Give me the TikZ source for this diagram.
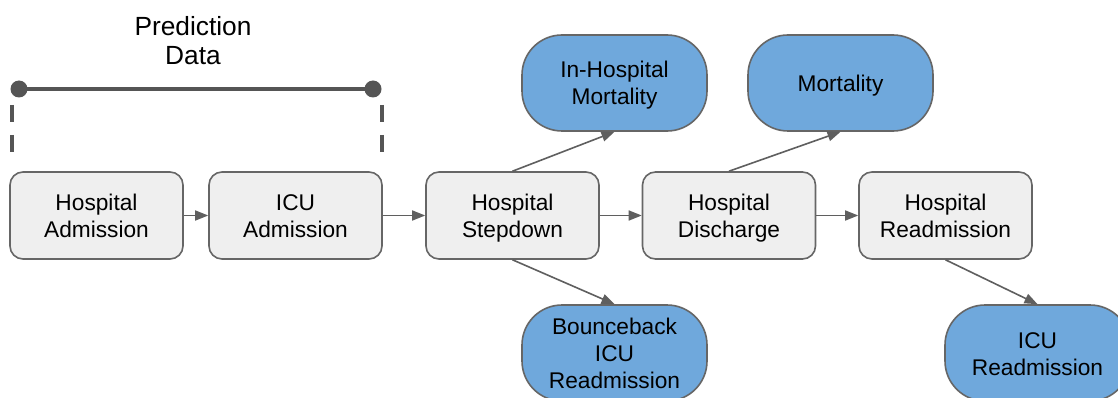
\documentclass[tikz,border=0pt]{standalone}
\usepackage{amsmath}
\usepackage{fontspec}
\setmainfont{Liberation Sans}
\usetikzlibrary{arrows.meta,positioning}
\definecolor{boxfill}{HTML}{EFEFEF}
\definecolor{boxdraw}{HTML}{666666}
\definecolor{bluefill}{HTML}{6FA8DC}
\definecolor{linec}{HTML}{5F5F5F}
\definecolor{darkc}{HTML}{555555}
\newcommand\toprl{\rule{0pt}{17pt}}
\newcommand\lastl[1]{\smash[b]{#1}}
\tikzset{
  graybox/.style={draw=boxdraw, fill=boxfill, line width=1.6pt, rounded corners=13pt,
    minimum width=173pt, minimum height=87pt, align=center, inner sep=0pt,
    font=\fontsize{22.7}{27}\selectfont},
  pill/.style={draw=boxdraw, fill=bluefill, line width=1.6pt, rounded corners=40pt,
    minimum width=185pt, minimum height=96pt, align=center, inner sep=0pt,
    font=\fontsize{22.7}{27}\selectfont},
  conn/.style={draw=linec, line width=1.6pt, -{Triangle[length=13pt,width=10pt]}},
  bar/.style={draw=darkc, line width=4pt},
  dashbar/.style={draw=darkc, line width=4pt, dash pattern=on 17pt off 13pt},
  dot/.style={circle, fill=darkc, minimum size=17pt, inner sep=0pt},
}
\begin{document}
\begin{tikzpicture}[x=1pt,y=-1pt]
\useasboundingbox (0,0) rectangle (1118,398);
\clip (0,0) rectangle (1118,398);
\fill[white] (0,0) rectangle (1118,398);
% prediction data
\node[align=center, inner sep=0pt, font=\fontsize{26.3}{29}\selectfont] (pd) at (193,40)
  {\rule{0pt}{19pt}Prediction\\\lastl{Data}};
\node[dot] (d1) at (19,89) {};
\node[dot] (d2) at (373,89) {};
\draw[bar] (d1.center) -- (d2.center);
\coordinate (l1) at (12,105);
\coordinate (l2) at (12,153);
\coordinate (r1) at (382,105);
\coordinate (r2) at (382,153);
\draw[dashbar] (l1) -- (l2);
\draw[dashbar] (r1) -- (r2);
% boxes
\node[graybox] (ha) at (96.5,215.5) {\toprl Hospital\\\lastl{Admission}};
\node[graybox] (icu) at (295.5,215.5) {\toprl ICU\\\lastl{Admission}};
\node[graybox] (hs) at (512.5,215.5) {\toprl Hospital\\\lastl{Stepdown}};
\node[graybox] (hd) at (729,215.5) {\toprl Hospital\\\lastl{Discharge}};
\node[graybox] (hr) at (945.5,215.5) {\toprl Hospital\\\lastl{Readmission}};
% pills
\node[pill] (ihm) at (614.5,83) {\toprl In-Hospital\\\lastl{Mortality}};
\node[pill] (mort) at (840.5,83) {\toprl\lastl{Mortality}};
\node[pill] (bb) at (614.5,353) {\toprl Bounceback\\ICU\\\lastl{Readmission}};
\node[pill] (icur) at (1037.5,353) {\toprl ICU\\\lastl{Readmission}};
% connectors
\draw[conn] (ha) -- (icu);
\draw[conn] (icu) -- (hs);
\draw[conn] (hs) -- (hd);
\draw[conn] (hd) -- (hr);
\draw[conn] (hs.north) -- (ihm.south);
\draw[conn] (hs.south) -- (bb.north);
\draw[conn] (hd.north) -- (mort.south);
\draw[conn] (hr.south) -- (icur.north);
\end{tikzpicture}
\end{document}
